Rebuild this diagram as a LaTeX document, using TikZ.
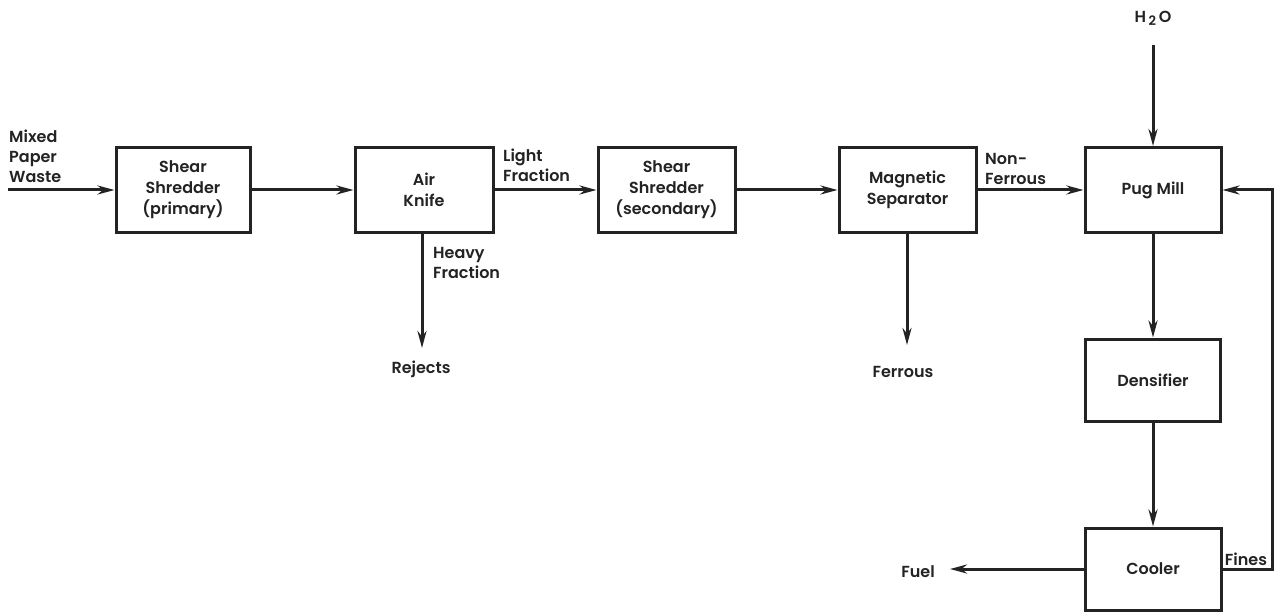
\documentclass[tikz,border=0pt]{standalone}
\usepackage{fontspec}
\setmainfont{Poppins}[UprightFont=*-SemiBold,BoldFont=*-Bold]
\usetikzlibrary{arrows.meta}
\definecolor{ink}{RGB}{35,35,35}
\tikzset{
  proc/.style={draw=ink, line width=3pt, minimum height=85pt, align=center,
    inner sep=0pt, font=\fontsize{16}{21}\selectfont, text=ink},
  lbl/.style={align=left, inner sep=0pt, font=\fontsize{16}{20}\selectfont, text=ink},
  flow/.style={draw=ink, line width=3pt, -{Stealth[length=17pt,width=9pt]}},
  plain/.style={draw=ink, line width=3pt}
}
\begin{document}
\begin{tikzpicture}[x=1pt,y=-1pt]
\useasboundingbox[fill=white] (0,0) rectangle (1277,612);
% process boxes
\node[proc, minimum width=134pt] (s1) at (183,190) {Shear\\Shredder\\(primary)};
\node[proc, minimum width=138pt] (ak) at (424,190) {Air\\Knife};
\node[proc, minimum width=137pt] (s2) at (666.5,190) {Shear\\Shredder\\(secondary)};
\node[proc, minimum width=137pt] (ms) at (907.5,190) {Magnetic\\Separator};
\node[proc, minimum width=136pt] (pm) at (1153,190) {Pug Mill};
\node[proc, minimum width=135pt, minimum height=82pt] (dn) at (1153,380) {Densifier};
\node[proc, minimum width=136pt, minimum height=82pt] (co) at (1153,569) {Cooler};
% labels
\node[lbl, anchor=west] (mpw) at (9,156) {Mixed\\Paper\\Waste};
\node[lbl, anchor=west] (lf) at (503,165) {Light\\Fraction};
\node[lbl, anchor=west] (hf) at (433,263) {Heavy\\Fraction};
\node[lbl] (rej) at (421,369) {Rejects};
\node[lbl, anchor=west] (nf) at (985,169) {Non-\\Ferrous};
\node[lbl] (fer) at (903,372) {Ferrous};
\node[lbl] (h2o) at (1153,18) {H\,\raisebox{-3pt}{\fontsize{13}{13}\selectfont 2}\,O};
\node[lbl] (fuel) at (918,572) {Fuel};
\node[lbl] (fines) at (1246,559) {Fines};
% free ends
\coordinate (in) at (8,190);
\coordinate (rejend) at (422,348);
\coordinate (ferend) at (907,345);
\coordinate (wtop) at (1153,45);
\coordinate (fuelend) at (950,569);
\coordinate (loopr) at (1272,569);
% connectors
\draw[flow] (in) -- (s1.west);
\draw[flow] (s1.east) -- (ak.west);
\draw[flow] (ak.east) -- (s2.west);
\draw[flow] (s2.east) -- (ms.west);
\draw[flow] (ms.east) -- (pm.west);
\draw[flow] (ak.south -| rejend) -- (rejend);
\draw[flow] (ms.south -| ferend) -- (ferend);
\draw[flow] (wtop) -- (pm.north);
\draw[flow] (pm.south) -- (dn.north);
\draw[flow] (dn.south) -- (co.north);
\draw[flow] (co.west) -- (fuelend);
\draw[flow] (co.east) -- (loopr) |- (pm.east);
\end{tikzpicture}
\end{document}
